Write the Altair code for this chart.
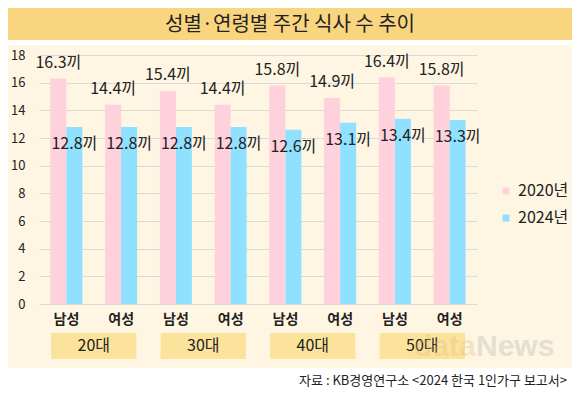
import altair as alt
import pandas as pd

ages = ["20대", "30대", "40대", "50대"]
genders = ["남성", "여성"]
years = ["2020년", "2024년"]
v2020 = [16.3, 14.4, 15.4, 14.4, 15.8, 14.9, 16.4, 15.8]
v2024 = [12.8, 12.8, 12.8, 12.8, 12.6, 13.1, 13.4, 13.3]
y_ticks = [0, 2, 4, 6, 8, 10, 12, 14, 16, 18]
title_text = "성별·연령별 주간 식사 수 추이"
source_text = "자료 : KB경영연구소 <2024 한국 1인가구 보고서>"

groups = [f"{a} {g}" for a in ages for g in genders]
rows = []
for i, grp in enumerate(groups):
    rows.append({"group": grp, "year": years[0], "value": v2020[i], "label": f"{v2020[i]}끼"})
    rows.append({"group": grp, "year": years[1], "value": v2024[i], "label": f"{v2024[i]}끼"})
df = pd.DataFrame(rows)
age_df = pd.DataFrame({"age": ages})
one = pd.DataFrame({"k": [0]})

FONT = "Noto Sans CJK KR"
W, H = 438, 249
PINK, BLUE = "#FFD1DC", "#90E0FF"
CREAM = "#FEF6E2"

xenc = alt.X("group:N", sort=groups,
             scale=alt.Scale(paddingInner=0.415, paddingOuter=0.2075),
             axis=alt.Axis(title=None, labelExpr="split(datum.label, ' ')[1]", labelAngle=0,
                           ticks=False, domain=False, grid=False, labelFontSize=14,
                           labelFontWeight="bold", labelColor="#222", labelPadding=8,
                           labelFont=FONT))
xoff = alt.XOffset("year:N", sort=years, scale=alt.Scale(paddingInner=0, paddingOuter=0))
yenc = alt.Y("value:Q", scale=alt.Scale(domain=[0, 18], nice=False),
             axis=alt.Axis(values=y_ticks, title=None, ticks=False, domain=False,
                           gridColor="#DADADA", labelFontSize=13, labelColor="#222",
                           labelPadding=14, labelFont=FONT, labelOverlap=False))

bars = alt.Chart(df).mark_bar().encode(
    x=xenc, xOffset=xoff, y=yenc,
    color=alt.Color("year:N", sort=years, scale=alt.Scale(domain=years, range=[PINK, BLUE]),
                    legend=alt.Legend(orient="none", legendX=459, legendY=128, title=None,
                                      symbolType="square", symbolSize=49, symbolStrokeWidth=0,
                                      labelFontSize=16, labelFont=FONT, labelColor="#222",
                                      rowPadding=11, padding=0, labelOffset=4)),
)
txt_pink = alt.Chart(df).transform_filter(alt.datum.year == years[0]).mark_text(
    baseline="middle", dy=-15.5, fontSize=16, font=FONT, color="#222"
).encode(x=xenc, xOffset=xoff, y=yenc, text="label:N")
txt_blue = alt.Chart(df).transform_filter(alt.datum.year == years[1]).mark_text(
    baseline="middle", dy=17, fontSize=16, font=FONT, color="#222"
).encode(x=xenc, xOffset=xoff, y=yenc, text="label:N")
inner = alt.layer(bars, txt_pink, txt_blue)

agex = alt.X("age:N", sort=ages, scale=alt.Scale(paddingInner=0.22, paddingOuter=0.11), axis=None)
age_box = alt.Chart(age_df).mark_rect(color="#FCE39B").encode(
    x=agex, y=alt.value(278), y2=alt.value(304))
age_txt = alt.Chart(age_df).mark_text(fontSize=16, font=FONT, color="#222", baseline="middle").encode(
    x=agex, y=alt.value(291), text="age:N")
age_layer = alt.layer(age_box, age_txt)


def rect(y0, y1, color):
    return alt.Chart(one).mark_rect(color=color).encode(
        x=alt.value(-31), x2=alt.value(533), y=alt.value(y0), y2=alt.value(y1))


banner = rect(-47, -15, "#F9D57F")
white_top = rect(-15, -10, "white")
white_bot = rect(313, 333, "white")
title = alt.Chart(one).mark_text(fontSize=20, font=FONT, color="#222", baseline="middle",
                                 align="center").encode(
    x=alt.value(251), y=alt.value(-30), text=alt.value(title_text))
source = alt.Chart(one).mark_text(fontSize=13, font=FONT, color="#222", baseline="middle",
                                  align="right").encode(
    x=alt.value(528), y=alt.value(326), text=alt.value(source_text))
wm1 = alt.Chart(one).mark_text(fontSize=30, font="Liberation Sans", fontWeight="bold", color="#E3B77E",
                               opacity=0.3, baseline="middle", align="left").encode(
    x=alt.value(375), y=alt.value(292), text=alt.value("data"))
wm2 = alt.Chart(one).mark_text(fontSize=30, font="Liberation Sans", fontWeight="bold", color="#9FB0AC",
                               opacity=0.3, baseline="middle", align="left").encode(
    x=alt.value(437), y=alt.value(292), text=alt.value("News"))

chart = alt.layer(
    banner, white_top, white_bot, title, source, age_layer, inner, wm1, wm2
).resolve_scale(x="independent").properties(
    width=W, height=H,
    autosize=alt.AutoSizeParams(type="none"),
    padding={"left": 31, "top": 47, "right": 95, "bottom": 84},
    background=CREAM,
).configure_view(stroke=None)

chart.save("out.html", embed_options={"renderer": "svg", "actions": False})
